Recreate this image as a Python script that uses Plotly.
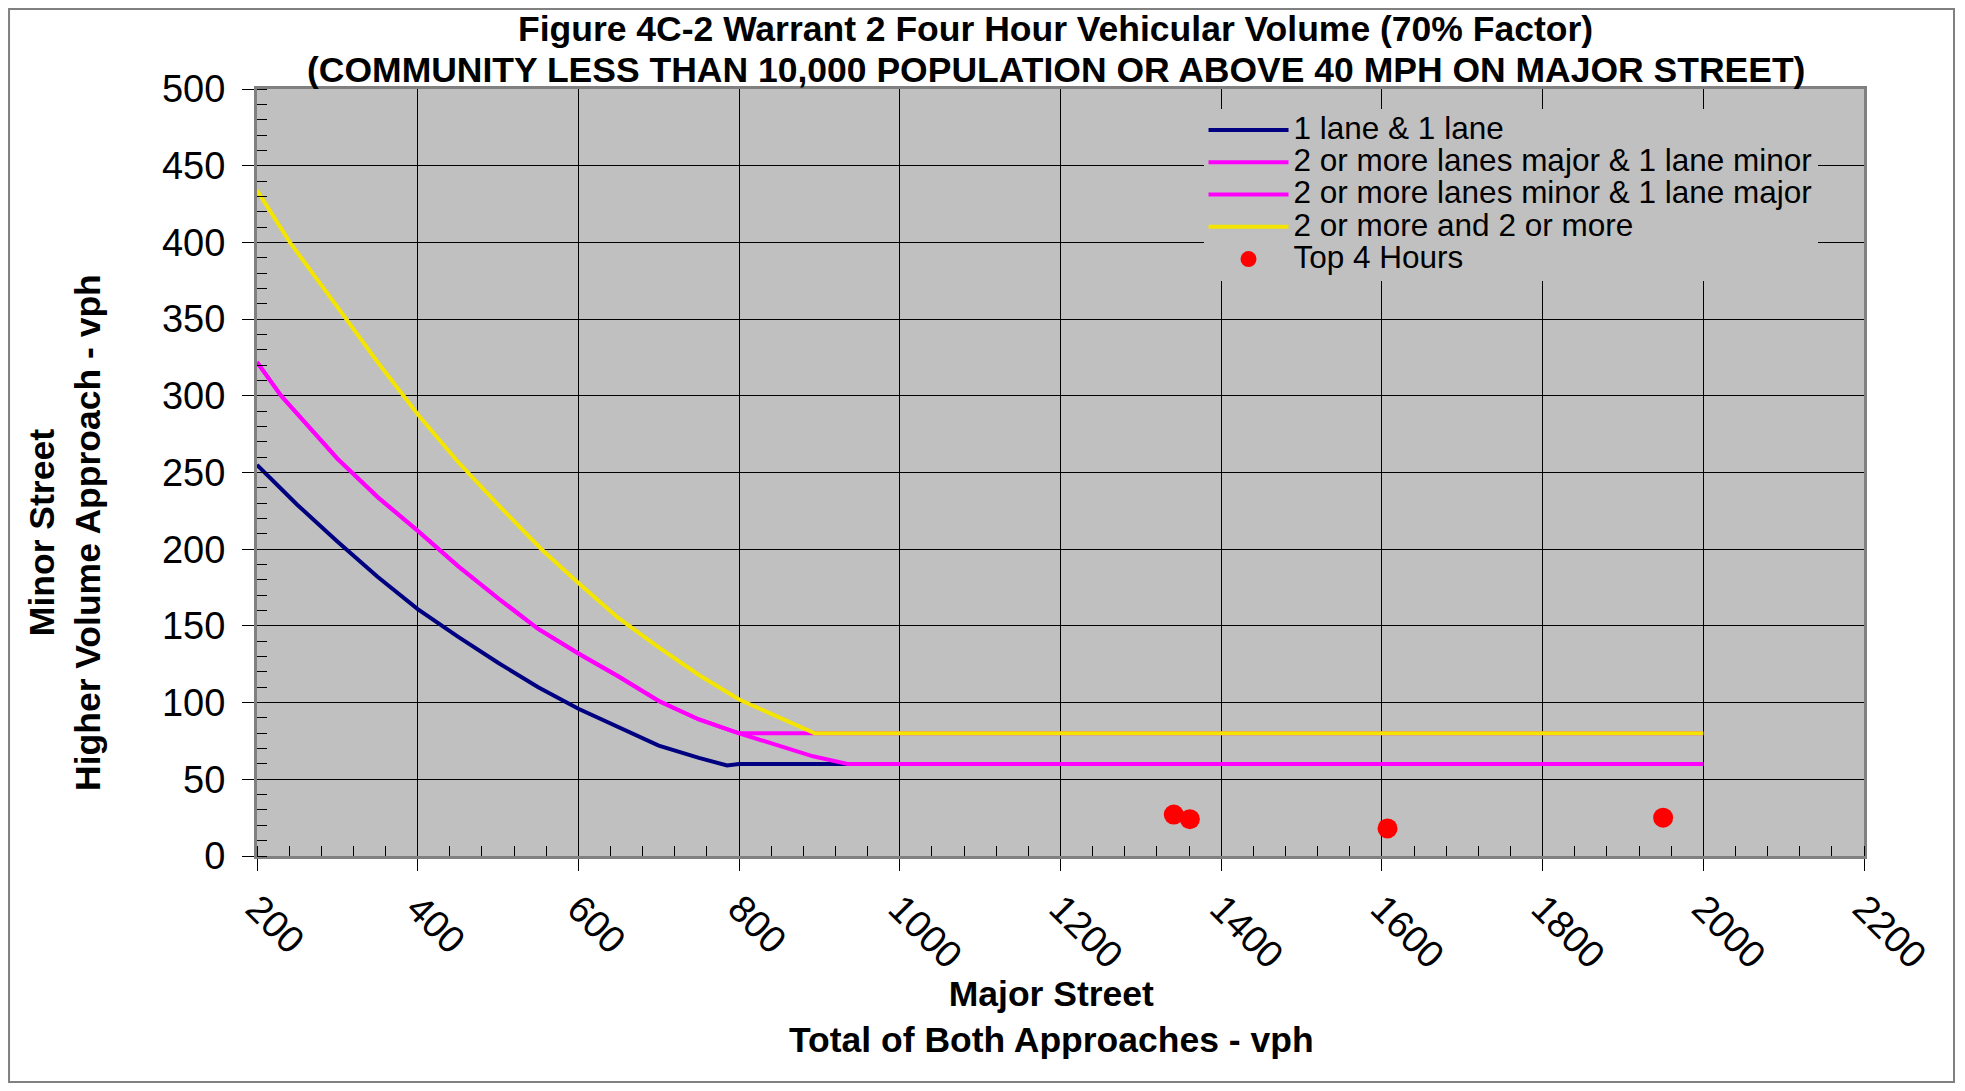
import plotly.graph_objects as go

# Figure 4C-2 warrant curves (70% factor)
major_1x1 = [200, 250, 300, 350, 400, 450, 500, 550, 600, 650, 700, 750, 785, 800, 2000]
minor_1x1 = [255, 229, 205, 182, 161, 143, 126, 110, 96, 84, 72, 64, 59, 60, 60]

major_2x1 = [200, 230, 300, 350, 400, 450, 500, 550, 600, 650, 700, 750, 800, 850, 892, 935, 2000]
minor_2x1 = [322, 300, 259, 234, 212, 189, 168, 148, 132, 117, 101, 89, 80, 72, 65, 60, 60]

major_1x2 = [200, 230, 300, 350, 400, 450, 500, 550, 600, 650, 700, 750, 800, 2000]
minor_1x2 = [322, 300, 259, 234, 212, 189, 168, 148, 132, 117, 101, 89, 80, 80]

major_2x2 = [200, 241, 300, 350, 400, 450, 500, 554, 600, 650, 700, 750, 800, 850, 894, 2000]
minor_2x2 = [434, 400, 358, 322, 288, 257, 229, 200, 178, 155, 136, 118, 102, 90, 80, 80]

# top 4 hours counts
hours_major = [1341, 1361, 1607, 1950]
hours_minor = [27, 24, 18, 25]

FONT = "Liberation Sans, Arial, sans-serif"


def leg(txt):
    # legend rows are packed tight, so the text is drawn bigger than the row font
    return '<span style="font-size:31.5px">' + txt + '</span>'


fig = go.Figure()
fig.add_trace(go.Scatter(x=major_1x1, y=minor_1x1, mode="lines", name=leg("1 lane & 1 lane"),
                         line=dict(color="#000080", width=4)))
fig.add_trace(go.Scatter(x=major_2x1, y=minor_2x1, mode="lines",
                         name=leg("2 or more lanes major & 1 lane minor"),
                         line=dict(color="#FF00FF", width=4)))
fig.add_trace(go.Scatter(x=major_1x2, y=minor_1x2, mode="lines",
                         name=leg("2 or more lanes minor & 1 lane major"),
                         line=dict(color="#FF00FF", width=4)))
fig.add_trace(go.Scatter(x=major_2x2, y=minor_2x2, mode="lines",
                         name=leg("2 or more and 2 or more"),
                         line=dict(color="#F4E500", width=4)))
fig.add_trace(go.Scatter(x=hours_major, y=hours_minor, mode="markers", name=leg("Top 4 Hours"),
                         marker=dict(color="#FF0000", size=20)))

fig.update_xaxes(range=[200, 2200], dtick=200, tickangle=45,
                 showgrid=True, gridcolor="#000000", gridwidth=1,
                 showline=True, linecolor="#808080", linewidth=3, mirror=True,
                 ticks="outside", ticklen=12, tickcolor="#000000",
                 minor=dict(dtick=40, ticks="inside", ticklen=10, tickcolor="#000000", showgrid=False),
                 tickfont=dict(family=FONT, size=38, color="#000000"),
                 zeroline=False)
fig.update_yaxes(range=[0, 500], dtick=50,
                 showgrid=True, gridcolor="#000000", gridwidth=1,
                 showline=True, linecolor="#808080", linewidth=3, mirror=True,
                 ticks="outside", ticklen=12, tickcolor="#000000", ticklabelstandoff=9,
                 minor=dict(dtick=10, ticks="inside", ticklen=10, tickcolor="#000000", showgrid=False),
                 tickfont=dict(family=FONT, size=38, color="#000000"),
                 zeroline=False)

fig.update_layout(
    width=1949, height=1075,
    margin=dict(l=249, r=93, t=81, b=227),
    paper_bgcolor="#FFFFFF", plot_bgcolor="#C0C0C0",
    legend=dict(x=0.589, y=0.974, xanchor="left", yanchor="top", bgcolor="#C0C0C0",
                font=dict(family=FONT, size=22.5, color="#000000"),
                borderwidth=0, tracegroupgap=0, itemwidth=80),
    font=dict(family=FONT, color="#000000"),
    showlegend=True,
    annotations=[
        dict(text="<b>Figure 4C-2 Warrant 2 Four Hour Vehicular Volume (70% Factor)</b>",
             xref="paper", yref="paper", x=0.497, y=1.078, xanchor="center", yanchor="middle",
             showarrow=False, font=dict(family=FONT, size=35.5, color="#000000")),
        dict(text="<b>(COMMUNITY LESS THAN 10,000 POPULATION OR ABOVE 40 MPH ON MAJOR STREET)</b>",
             xref="paper", yref="paper", x=0.497, y=1.0254, xanchor="center", yanchor="middle",
             showarrow=False, font=dict(family=FONT, size=35.5, color="#000000")),
        dict(text="<b>Major Street<br>Total of Both Approaches - vph</b>",
             xref="paper", yref="paper", x=0.4947, y=-0.2099, xanchor="center", yanchor="middle",
             showarrow=False, font=dict(family=FONT, size=35.5, color="#000000")),
        dict(text="<b>Minor Street<br>Higher Volume Approach - vph</b>",
             xref="paper", yref="paper", x=-0.1195, y=0.4224, xanchor="center", yanchor="middle",
             textangle=-90, showarrow=False, font=dict(family=FONT, size=35.5, color="#000000")),
    ],
    shapes=[dict(type="rect", xref="paper", yref="paper",
                 x0=-0.1543, x1=1.056, y0=-0.2947, y1=1.1043,
                 line=dict(color="#808080", width=2), fillcolor="rgba(0,0,0,0)", layer="below")],
)

fig.write_html("out.html")
